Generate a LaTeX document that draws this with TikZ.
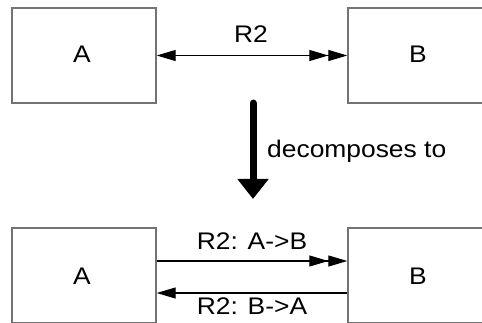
\documentclass[tikz,border=0pt]{standalone}
\usepackage{fontspec}
\setmainfont[FakeStretch=1.1]{Liberation Sans}
\usetikzlibrary{arrows.meta}
\tikzset{tri/.tip={Triangle[length=19pt,width=11pt]}}
\begin{document}
\begin{tikzpicture}[x=1pt,y=-1pt,
  box/.style={draw=black!55,line width=1.4pt,minimum width=144pt,minimum height=95pt,inner sep=0pt},
  lbl/.style={anchor=base,inner sep=0pt,font=\fontsize{24}{27}\selectfont},
  conn/.style={draw=black,line width=1.1pt}]
\useasboundingbox (0,0) rectangle (482,323);
\clip (0,0) rectangle (482,323);
% top
\node[box] (A1) at (84,55.5) {};
\node[lbl] (tA1) at (82,63) {A};
\node[box] (B1) at (420,55.5) {};
\node[lbl] (tB1) at (418,63) {B};
\draw[conn,tri-{tri[]tri}] (A1.east) -- (B1.west);
\node[lbl] (r2) at (251,43) {R2};
% big arrow
\coordinate (s) at (253,103);
\coordinate (e) at (253,199);
\draw[line width=7pt,line cap=round,-{Triangle[length=20pt,width=30pt]}] (s) -- (e);
\node[lbl,anchor=base west] (dec) at (267,158) {decomposes to};
% bottom
\node[box] (A2) at (84,275.5) {};
\node[lbl] (tA2) at (82,284) {A};
\node[box] (B2) at (420,275.5) {};
\node[lbl] (tB2) at (418,284) {B};
\draw[conn,-{tri[]tri}] ([yshift=14.5pt]A2.east) -- ([yshift=14.5pt]B2.west);
\draw[conn,-tri] ([yshift=-17.5pt]B2.west) -- ([yshift=-17.5pt]A2.east);
\node[lbl] (l1) at (252,250) {R2: A->B};
\node[lbl] (l2) at (252,314) {R2: B->A};
\end{tikzpicture}
\end{document}
